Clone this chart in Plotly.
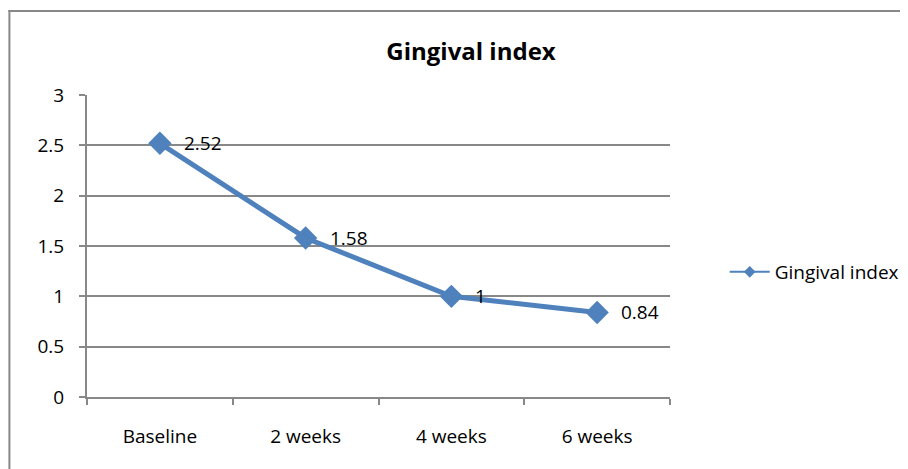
import plotly.graph_objects as go

categories = ["Baseline", "2 weeks", "4 weeks", "6 weeks"]
gingival_index = [2.52, 1.58, 1, 0.84]
data_labels = ["2.52", "1.58", "1", "0.84"]
y_ticks = [0, 0.5, 1, 1.5, 2, 2.5, 3]
y_tick_labels = ["0", "0.5", "1", "1.5", "2", "2.5", "3"]
series_name = "Gingival index"
chart_title = "Gingival index"

OFF = 8  # page body margin offset
W, H = 908, 469
# desired on-screen plot area: x 87..673, y 95..397
L, T = 87 - OFF, 95 - OFF
R = W - (673 - OFF)
B = H - (397 - OFF)
pw, ph = W - L - R, H - T - B

def px_x(sx):
    return (sx - OFF - L) / pw

def px_y(sy):
    return (H - B - (sy - OFF)) / ph

blue = "#4f81bd"
grey = "#888888"
font = "Open Sans"

fig = go.Figure()
fig.add_trace(go.Scatter(
    x=categories, y=gingival_index, mode="lines+markers",
    line=dict(color=blue, width=5),
    marker=dict(symbol="diamond", size=18, color=blue),
    showlegend=False, cliponaxis=False,
))
# legend sample trace (thin line, small diamond)
fig.add_trace(go.Scatter(
    x=[None], y=[None], mode="lines+markers", name=series_name,
    line=dict(color=blue, width=2),
    marker=dict(symbol="diamond", size=9, color=blue),
))

for c, v, t in zip(categories, gingival_index, data_labels):
    fig.add_annotation(x=c, y=v, text=t, showarrow=False, xanchor="left",
                       yanchor="middle", xshift=22,
                       font=dict(family=font, size=19, color="#000000"))

# outer chart border (left and top edges visible)
fig.add_shape(type="line", xref="paper", yref="paper",
              x0=px_x(9), x1=px_x(9), y0=px_y(480), y1=px_y(10),
              line=dict(color=grey, width=2))
fig.add_shape(type="line", xref="paper", yref="paper",
              x0=px_x(8), x1=px_x(920), y0=px_y(11), y1=px_y(11),
              line=dict(color=grey, width=2))

fig.update_layout(
    width=W, height=H,
    margin=dict(l=L, r=R, t=T, b=B),
    paper_bgcolor="white", plot_bgcolor="white",
    font=dict(family=font, size=19, color="#000000"),
    title=dict(text=f"<b>{chart_title}</b>", x=(471 - OFF) / W, xref="container", xanchor="center",
               y=1 - (52 - OFF) / H, yref="container", yanchor="middle",
               font=dict(family=font, size=24, color="#000000")),
    xaxis=dict(type="category", range=[-0.5, 3.5], tickson="boundaries",
               showgrid=False, showline=True, linecolor=grey, linewidth=2,
               ticks="outside", ticklen=6, tickcolor=grey, tickwidth=2,
               ticklabelstandoff=21, tickfont=dict(family=font, size=19)),
    yaxis=dict(range=[0, 3], tickvals=y_ticks, ticktext=y_tick_labels,
               showgrid=True, gridcolor=grey, gridwidth=1.5,
               showline=True, linecolor=grey, linewidth=2,
               ticks="outside", ticklen=6, tickcolor=grey, tickwidth=2,
               ticklabelstandoff=11, tickfont=dict(family=font, size=19),
               zeroline=False),
    legend=dict(x=px_x(728), y=px_y(272), xanchor="left", yanchor="middle",
                font=dict(family=font, size=19), bgcolor="rgba(0,0,0,0)",
                itemwidth=40),
)

fig.write_html("out.html")
